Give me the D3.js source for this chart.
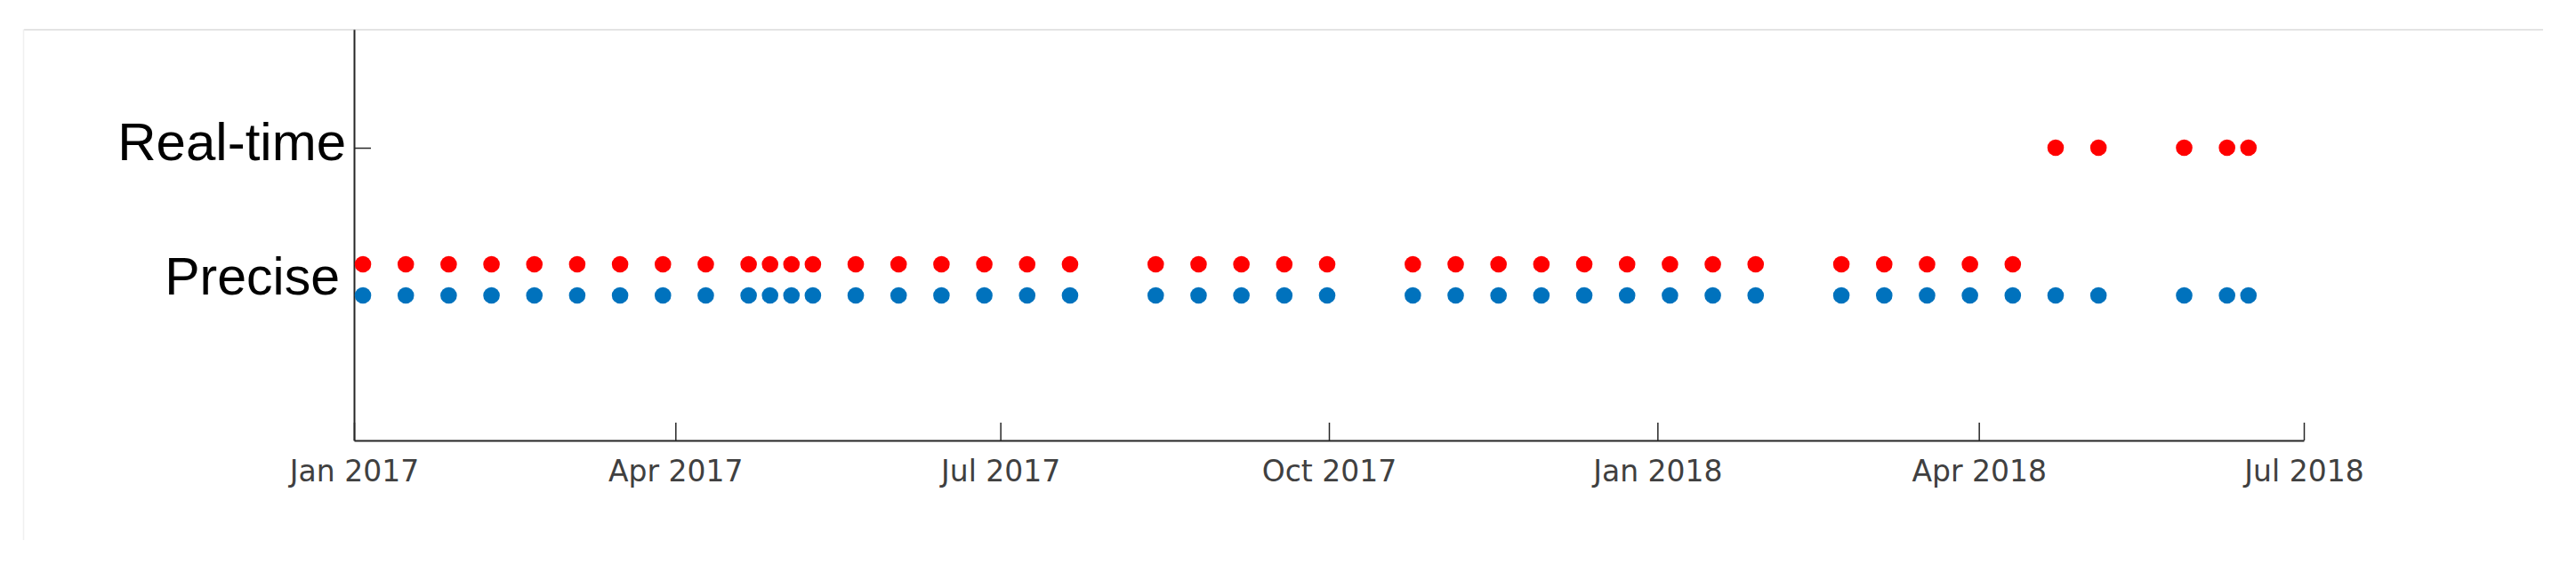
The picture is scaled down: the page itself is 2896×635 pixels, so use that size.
<!DOCTYPE html>
<html>
<head>
<meta charset="utf-8">
<script src="https://d3js.org/d3.v7.min.js"></script>
<style>
  body { margin: 0; background: #fff; }
</style>
</head>
<body>
<div id="chartArea"></div>
<script>
// orbit categories on the y axis
var categories = ["Precise", "Real-time"];
var categoryValues = [1, 2];

// acquisition dates with a precise orbit (blue)
var preciseDates = [
  "2017-01-03", "2017-01-15", "2017-01-27", "2017-02-08", "2017-02-20",
  "2017-03-04", "2017-03-16", "2017-03-28", "2017-04-09", "2017-04-21",
  "2017-04-27", "2017-05-03", "2017-05-09", "2017-05-21", "2017-06-02",
  "2017-06-14", "2017-06-26", "2017-07-08", "2017-07-20", "2017-08-13",
  "2017-08-25", "2017-09-06", "2017-09-18", "2017-09-30", "2017-10-24",
  "2017-11-05", "2017-11-17", "2017-11-29", "2017-12-11", "2017-12-23",
  "2018-01-04", "2018-01-16", "2018-01-28", "2018-02-21", "2018-03-05",
  "2018-03-17", "2018-03-29", "2018-04-10", "2018-04-22", "2018-05-04",
  "2018-05-28", "2018-06-09", "2018-06-15"
];

// orbit actually used (red): precise up to Apr 2018, then real-time
var usedPreciseDates = [
  "2017-01-03", "2017-01-15", "2017-01-27", "2017-02-08", "2017-02-20",
  "2017-03-04", "2017-03-16", "2017-03-28", "2017-04-09", "2017-04-21",
  "2017-04-27", "2017-05-03", "2017-05-09", "2017-05-21", "2017-06-02",
  "2017-06-14", "2017-06-26", "2017-07-08", "2017-07-20", "2017-08-13",
  "2017-08-25", "2017-09-06", "2017-09-18", "2017-09-30", "2017-10-24",
  "2017-11-05", "2017-11-17", "2017-11-29", "2017-12-11", "2017-12-23",
  "2018-01-04", "2018-01-16", "2018-01-28", "2018-02-21", "2018-03-05",
  "2018-03-17", "2018-03-29", "2018-04-10"
];
var usedRealTimeDates = [
  "2018-04-22", "2018-05-04", "2018-05-28", "2018-06-09", "2018-06-15"
];

var xTickDates = ["2017-01-01", "2017-04-01", "2017-07-01", "2017-10-01", "2018-01-01", "2018-04-01", "2018-07-01"];
var xTickLabels = ["Jan 2017", "Apr 2017", "Jul 2017", "Oct 2017", "Jan 2018", "Apr 2018", "Jul 2018"];

var parseDay = function(s){
    // acquisitions are around mid-day
    return d3.timeParse("%Y-%m-%dT%H")(s + "T12");
};
var parseTick = d3.timeParse("%Y-%m-%d");

var width = 2896,
    height = 635;

var plotLeft = 398, plotRight = 2590, plotTop = 33, plotBottom = 495;
var rowOffset = 0.118;
var dotRadius = 9.3;

var svg = d3.select("#chartArea").append("svg")
    .attr("width", width)
    .attr("height", height);

// light frame of the figure
svg.append("line")
    .attr("x1", 27).attr("x2", 2859)
    .attr("y1", 33.5).attr("y2", 33.5)
    .style("stroke", "#d9d9d9")
    .style("stroke-width", 1.5);
svg.append("line")
    .attr("x1", 26.5).attr("x2", 26.5)
    .attr("y1", 33).attr("y2", 607)
    .style("stroke", "#f0f0f0")
    .style("stroke-width", 1.5);

var x = d3.scaleTime()
    .domain([parseTick(xTickDates[0]), parseTick(xTickDates[xTickDates.length - 1])])
    .range([plotLeft, plotRight]);

var y = d3.scaleLinear()
    .domain([-0.2155, 2.896])
    .range([plotBottom, plotTop]);

var xAxis = d3.axisBottom(x)
    .tickValues(xTickDates.map(parseTick))
    .tickFormat(function(d, i){ return xTickLabels[i]; })
    .tickSizeInner(-20)
    .tickSizeOuter(0)
    .tickPadding(23);

var gx = svg.append("g")
    .attr("transform", "translate(0," + plotBottom + ")")
    .call(xAxis);
gx.select(".domain").style("stroke", "#262626").style("stroke-width", 2);
gx.selectAll(".tick line").style("stroke", "#262626").style("stroke-width", 1.5);
gx.selectAll(".tick text")
    .style("font-family", "'DejaVu Sans', sans-serif")
    .style("font-size", "33px")
    .style("fill", "#404040");

var yAxis = d3.axisLeft(y)
    .tickValues(categoryValues)
    .tickFormat(function(d, i){ return categories[i]; })
    .tickSizeInner(-19)
    .tickSizeOuter(0)
    .tickPadding(9);

var gy = svg.append("g")
    .attr("transform", "translate(" + plotLeft + ",0)")
    .call(yAxis);
gy.select(".domain").style("stroke", "#262626").style("stroke-width", 2);
gy.selectAll(".tick line").style("stroke", "#262626").style("stroke-width", 1.5)
    .style("display", function(d){ return d == 1 ? "none" : null; });
gy.selectAll(".tick text")
    .attr("dy", function(d){ return d == 1 ? "0.27em" : "0.23em"; })
    .attr("dx", function(d){ return d == 1 ? -7 : 0; })
    .style("font-family", "'Liberation Sans', Arial, sans-serif")
    .style("font-size", function(d){ return d == 1 ? "59px" : "60px"; })
    .style("fill", "#000");

var drawDots = function(dates, value, colour){
    svg.append("g").selectAll("circle").data(dates).enter().append("circle")
        .attr("cx", function(d){ return x(parseDay(d)); })
        .attr("cy", y(value))
        .attr("r", dotRadius)
        .style("fill", colour);
};

drawDots(preciseDates, categoryValues[0] - rowOffset, "#0072bd");
drawDots(usedPreciseDates, categoryValues[0] + rowOffset, "#ff0000");
drawDots(usedRealTimeDates, categoryValues[1], "#ff0000");
</script>
</body>
</html>
